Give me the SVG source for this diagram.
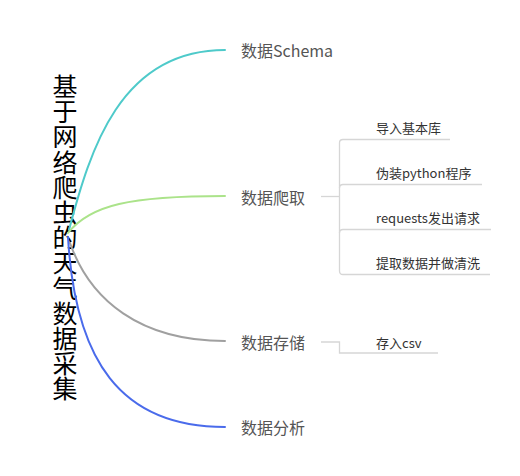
<svg xmlns="http://www.w3.org/2000/svg" width="520" height="476" viewBox="0 0 520 476">
<style>
.root{font-family:"Noto Sans CJK SC","Noto Sans",sans-serif;font-size:25px;fill:#000;text-anchor:middle;dominant-baseline:central}
.main{font-family:"Noto Sans CJK SC","Noto Sans",sans-serif;font-size:16px;fill:#555;dominant-baseline:central}
.sub{font-family:"Noto Sans CJK SC","Noto Sans",sans-serif;font-size:13px;fill:#333;dominant-baseline:central}
.br{fill:none;stroke-width:2;stroke-linecap:round}
.ln{fill:none;stroke:#d6d6d6;stroke-width:1.3}
</style>
<rect width="520" height="476" fill="#fff"/>
<g id="root">
<text class="root"><tspan x="65" y="85">基</tspan><tspan x="65" y="110.2">于</tspan><tspan x="65" y="135.4">网</tspan><tspan x="65" y="160.6">络</tspan><tspan x="65" y="185.8">爬</tspan><tspan x="65" y="211">虫</tspan><tspan x="65" y="236.2">的</tspan><tspan x="65" y="261.4">天</tspan><tspan x="65" y="286.6">气</tspan><tspan x="65" y="311.8">数</tspan><tspan x="65" y="337">据</tspan><tspan x="65" y="362.2">采</tspan><tspan x="65" y="387.4">集</tspan></text>
</g>
<g id="connectors">
<path class="br" stroke="#4ecaca" d="M69,230 C90,150 120,50 225,50"/>
<path class="br" stroke="#abe38a" d="M68,233 C90,205 130,196 225,196"/>
<path class="br" stroke="#a0a0a0" d="M70,243 C90,300 140,341 225,341"/>
<path class="br" stroke="#4a6beb" d="M68,237 C75,360 120,427 225,427"/>
<path class="ln" d="M321,196.5 H339.5"/>
<path class="ln" d="M450,139.5 H343 Q339.5,139.5 339.5,143 V271 Q339.5,274.5 343,274.5 H490"/>
<path class="ln" d="M339.5,188 Q339.5,184.5 343,184.5 H482"/>
<path class="ln" d="M339.5,233 Q339.5,229.5 343,229.5 H491"/>
<path class="ln" d="M321,342 H339.5 V353 H438"/>
</g>
<g id="n-schema"><text class="main" x="241" y="50">数据Schema</text></g>
<g id="n-crawl"><text class="main" x="241" y="196.5">数据爬取</text></g>
<g id="n-store"><text class="main" x="241" y="342">数据存储</text></g>
<g id="n-analyze"><text class="main" x="241" y="427">数据分析</text></g>
<g id="n-import"><text class="sub" x="376" y="127.5">导入基本库</text></g>
<g id="n-disguise"><text class="sub" x="376" y="172">伪装python程序</text></g>
<g id="n-requests"><text class="sub" x="376" y="217">requests发出请求</text></g>
<g id="n-extract"><text class="sub" x="376" y="262.5">提取数据并做清洗</text></g>
<g id="n-csv"><text class="sub" x="376" y="342">存入csv</text></g>
</svg>
